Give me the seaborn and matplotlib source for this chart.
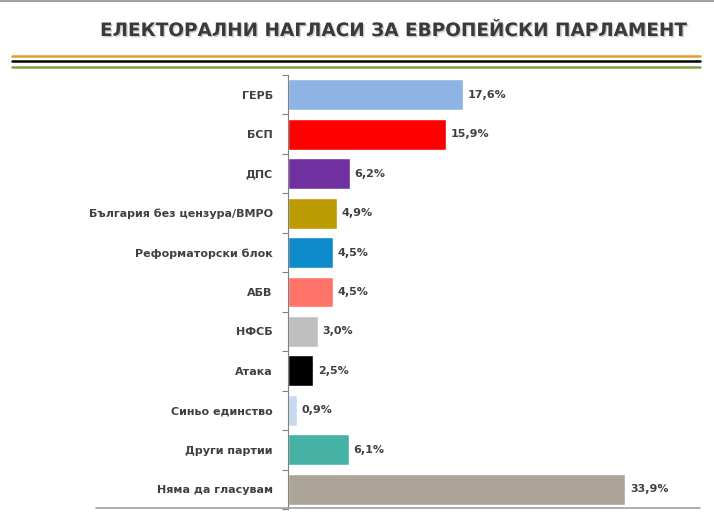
import matplotlib
matplotlib.use("Agg")
import matplotlib.pyplot as plt
import matplotlib.patheffects as pe
from matplotlib.lines import Line2D
from matplotlib.ticker import FixedLocator
import seaborn as sns
import pandas as pd
import numpy as np

# данни
parties = ["ГЕРБ", "БСП", "ДПС", "България без цензура/ВМРО", "Реформаторски блок",
           "АБВ", "НФСБ", "Атака", "Синьо единство", "Други партии", "Няма да гласувам"]
values = [17.6, 15.9, 6.2, 4.9, 4.5, 4.5, 3.0, 2.5, 0.9, 6.1, 33.9]
colors = ["#8DB4E2", "#FF0000", "#7030A0", "#BC9C00", "#0E8BCB", "#FF7369",
          "#BFBFBF", "#000000", "#C6D9F1", "#46B2A6", "#ADA498"]
title = "ЕЛЕКТОРАЛНИ НАГЛАСИ ЗА ЕВРОПЕЙСКИ ПАРЛАМЕНТ"

df = pd.DataFrame({"party": parties, "value": values})

sns.set_style("white")
W, H = 714, 513
fig = plt.figure(figsize=(W / 100, H / 100), dpi=100)

# оси: лява граница x=288, горе y=75, долу y=509
ax = fig.add_axes([288 / W, 1 - 509 / H, (700 - 288) / W, (509 - 75) / H])
sns.barplot(data=df, y="party", x="value", hue="party", palette=colors,
            legend=False, width=0.785, ax=ax, orient="h", saturation=1)

ax.set_xlim(0, 412 / 9.94)
ax.set_ylim(10.5, -0.5)
ax.set_xlabel("")
ax.set_ylabel("")
ax.set_xticks([])

for s in ["top", "right", "bottom"]:
    ax.spines[s].set_visible(False)
ax.spines["left"].set_color("#808080")
ax.spines["left"].set_linewidth(0.8)

ax.tick_params(axis="y", which="major", length=0, pad=11)
ax.yaxis.set_minor_locator(FixedLocator(np.arange(-0.5, 11, 1)))
ax.tick_params(axis="y", which="minor", left=True, length=4, width=0.8, color="#808080")
for lab in ax.get_yticklabels():
    lab.set_fontsize(8)
    lab.set_fontweight("bold")
    lab.set_color("#404040")

for i, v in enumerate(values):
    ax.text(v + 0.5, i, f"{v:.1f}%".replace(".", ","), va="center", ha="left",
            fontsize=8, fontweight="bold", color="#404040")

# заглавие
fig.text(690 / W, 1 - 31 / H, title, ha="right", va="center", fontsize=13.3,
         fontweight="bold", color="#3a3a3a",
         path_effects=[pe.withSimplePatchShadow(offset=(1.0, -1.0), shadow_rgbFace="#a0a0a0", alpha=0.5)])

# декоративни линии
fig.add_artist(Line2D([0, 1], [1 - 1 / H, 1 - 1 / H], color="#A0A0A0", lw=1.5))
for y, c in [(56, "#E59B2E"), (61, "#000000"), (67, "#77A745")]:
    fig.add_artist(Line2D([12 / W, 700 / W], [1 - y / H, 1 - y / H], color=c, lw=1.8))
fig.add_artist(Line2D([96 / W, 700 / W], [1 - 508 / H, 1 - 508 / H], color="#A0A0A0", lw=1.2))

fig.savefig("out.png", dpi=100)
